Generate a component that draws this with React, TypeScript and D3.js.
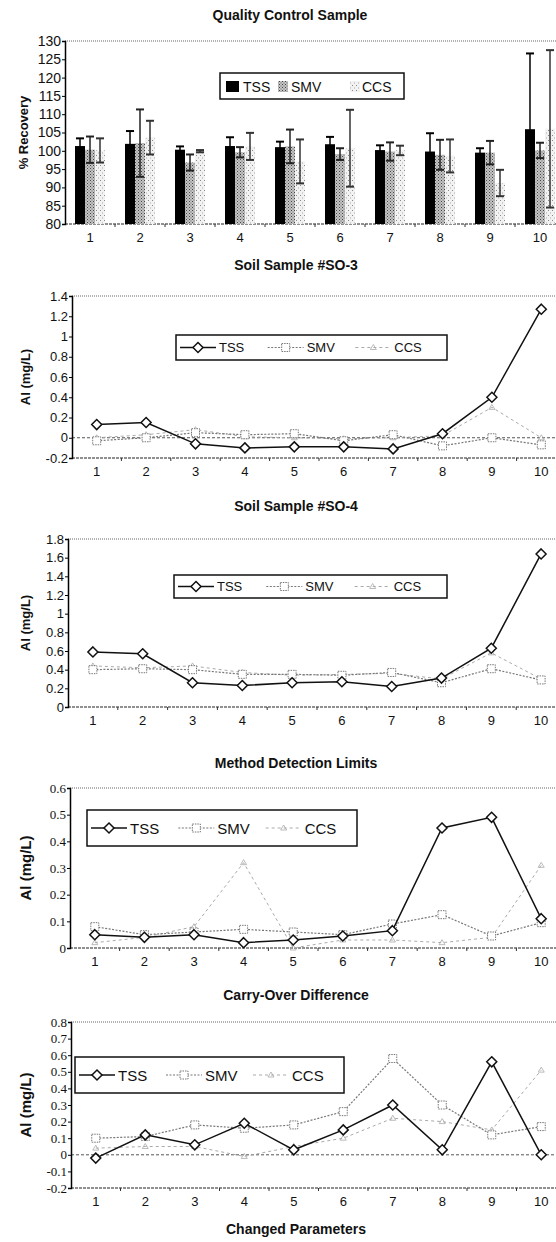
import React, { useEffect, useRef } from "react";
import * as d3 from "d3";

// ---- data ----
const categories = ["1", "2", "3", "4", "5", "6", "7", "8", "9", "10"];
const seriesNames = ["TSS", "SMV", "CCS"];

// Quality Control Sample, % recovery with +/- error
const qcTSS = [101.3, 101.9, 100.3, 101.3, 101.0, 101.8, 100.2, 99.8, 99.5, 105.9];
const qcTSSErr = [2.1, 3.5, 0.9, 2.4, 1.5, 2.0, 1.3, 5.0, 1.2, 20.7];
const qcSMV = [100.3, 102.1, 96.8, 99.6, 101.2, 99.1, 99.8, 98.9, 99.5, 100.1];
const qcSMVErr = [3.6, 9.2, 2.2, 1.4, 4.6, 1.6, 2.5, 4.1, 3.2, 2.1];
const qcCCS = [100.1, 103.6, 99.9, 101.2, 97.1, 100.7, 100.1, 98.6, 91.2, 106.0];
const qcCCSErr = [3.3, 4.6, 0.3, 3.7, 6.0, 10.5, 1.3, 4.5, 3.6, 21.5];
const qcTicks = [80, 85, 90, 95, 100, 105, 110, 115, 120, 125, 130];

// Soil Sample #SO-3
const so3TSS = [0.13, 0.15, -0.06, -0.1, -0.09, -0.09, -0.11, 0.04, 0.4, 1.27];
const so3SMV = [-0.03, 0.0, 0.05, 0.03, 0.04, -0.03, 0.03, -0.08, 0.0, -0.07];
const so3CCS = [0.0, 0.03, 0.08, 0.01, 0.0, -0.01, 0.0, 0.02, 0.3, 0.0];
const so3Ticks = [-0.2, 0, 0.2, 0.4, 0.6, 0.8, 1, 1.2, 1.4];

// Soil Sample #SO-4
const so4TSS = [0.59, 0.57, 0.26, 0.23, 0.26, 0.27, 0.22, 0.31, 0.63, 1.64];
const so4SMV = [0.4, 0.41, 0.4, 0.35, 0.35, 0.34, 0.37, 0.26, 0.41, 0.29];
const so4CCS = [0.44, 0.42, 0.44, 0.37, 0.34, 0.35, 0.36, 0.3, 0.58, 0.3];
const so4Ticks = [0, 0.2, 0.4, 0.6, 0.8, 1, 1.2, 1.4, 1.6, 1.8];

// Method Detection Limits
const mdlTSS = [0.05, 0.04, 0.05, 0.02, 0.03, 0.045, 0.065, 0.45, 0.49, 0.11];
const mdlSMV = [0.08, 0.05, 0.06, 0.07, 0.06, 0.05, 0.09, 0.125, 0.045, 0.095];
const mdlCCS = [0.02, 0.04, 0.08, 0.32, 0.0, 0.03, 0.03, 0.02, 0.04, 0.31];
const mdlTicks = [0, 0.1, 0.2, 0.3, 0.4, 0.5, 0.6];

// Carry-Over Difference
const coTSS = [-0.02, 0.12, 0.06, 0.19, 0.03, 0.15, 0.3, 0.03, 0.56, 0.0];
const coSMV = [0.1, 0.11, 0.18, 0.16, 0.18, 0.26, 0.58, 0.3, 0.12, 0.17];
const coCCS = [0.04, 0.05, 0.05, -0.01, 0.05, 0.1, 0.22, 0.2, 0.15, 0.51];
const coTicks = [-0.2, -0.1, 0, 0.1, 0.2, 0.3, 0.4, 0.5, 0.6, 0.7, 0.8];

const SANS = "Liberation Sans, Arial, sans-serif";
const SERIF = "Liberation Serif, Times New Roman, serif";

const lineStyle: any = {
  TSS: { stroke: "#111", width: 1.5, dash: null, marker: "diamond", mstroke: "#111" },
  SMV: { stroke: "#777", width: 1.2, dash: "2,1.5", marker: "square", mstroke: "#777" },
  CCS: { stroke: "#aaa", width: 1, dash: "3,3", marker: "triangle", mstroke: "#aaa" },
};

const fmt = (d: number) => String(+d.toFixed(1));

function drawMarker(g: any, kind: string, cx: number, cy: number, stroke: string) {
  if (kind === "diamond") {
    g.append("path")
      .attr("d", `M${cx},${cy - 5}L${cx + 5},${cy}L${cx},${cy + 5}L${cx - 5},${cy}Z`)
      .attr("fill", "#fff").attr("stroke", stroke).attr("stroke-width", 1.5);
  } else if (kind === "square") {
    g.append("rect")
      .attr("x", cx - 4).attr("y", cy - 4).attr("width", 8).attr("height", 8)
      .attr("fill", "#fff").attr("stroke", stroke).attr("stroke-width", 1).attr("stroke-dasharray", "1.5,1");
  } else {
    g.append("path")
      .attr("d", `M${cx},${cy - 3}L${cx + 3},${cy + 2}L${cx - 3},${cy + 2}Z`)
      .attr("fill", "none").attr("stroke", stroke).attr("stroke-width", 0.8);
  }
}

function drawFrame(svg: any, left: number, right: number, top: number, bottom: number) {
  svg.append("line").attr("x1", left).attr("x2", right).attr("y1", top).attr("y2", top)
    .attr("stroke", "#666").attr("stroke-width", 1).attr("stroke-dasharray", "1,1");
  svg.append("line").attr("x1", left).attr("x2", right).attr("y1", bottom).attr("y2", bottom)
    .attr("stroke", "#222").attr("stroke-width", 1.2).attr("stroke-dasharray", "3,1");
}

function drawYAxis(svg: any, y: any, left: number, ticks: number[], font: string, size: number) {
  const ax = svg.append("g").attr("transform", `translate(${left},0)`)
    .call(d3.axisLeft(y).tickValues(ticks).tickSize(3).tickFormat((d: any) => fmt(d)));
  ax.select(".domain").attr("stroke", "#000").attr("stroke-width", 1.5);
  ax.selectAll(".tick line").attr("stroke", "#000");
  ax.selectAll(".tick text").attr("font-family", font).attr("font-size", size).attr("fill", "#111").attr("x", -4);
}

function drawXLabels(svg: any, x: (c: string) => number, step: number, bottom: number, size: number) {
  svg.append("g").selectAll("text").data(categories).join("text")
    .attr("x", (d: string) => x(d)).attr("y", bottom + 18)
    .attr("text-anchor", "middle").attr("font-family", SANS).attr("font-size", size).attr("fill", "#111")
    .text((d: string) => d);
  // small tick marks between categories
  svg.append("g").selectAll("line").data(categories).join("line")
    .attr("x1", (d: string) => x(d) + step / 2).attr("x2", (d: string) => x(d) + step / 2)
    .attr("y1", bottom).attr("y2", bottom + 3)
    .attr("stroke", "#333").attr("stroke-width", 1);
}

function drawTitle(svg: any, text: string, cx: number, cy: number) {
  svg.append("text").attr("x", cx).attr("y", cy).attr("text-anchor", "middle")
    .attr("dominant-baseline", "central").attr("font-family", SANS).attr("font-weight", "bold")
    .attr("font-size", 14).attr("fill", "#111").text(text);
}

function drawYTitle(svg: any, text: string, cx: number, cy: number, size: number) {
  svg.append("text").attr("transform", `translate(${cx},${cy}) rotate(-90)`).attr("text-anchor", "middle")
    .attr("dominant-baseline", "central").attr("font-family", SANS).attr("font-weight", "bold")
    .attr("font-size", size).attr("fill", "#111").text(text);
}

function drawLineLegend(svg: any, box: number[], size: number, font: string) {
  const [x0, y0, x1, y1] = box;
  svg.append("rect").attr("x", x0).attr("y", y0).attr("width", x1 - x0).attr("height", y1 - y0)
    .attr("fill", "#fff").attr("stroke", "#111").attr("stroke-width", 1.5);
  const cy = (y0 + y1) / 2;
  const itemW = (x1 - x0 - 8) / 3;
  seriesNames.forEach((name, i) => {
    const st = lineStyle[name];
    const sx = x0 + 4 + i * itemW;
    const ln = svg.append("line").attr("x1", sx).attr("x2", sx + 36).attr("y1", cy).attr("y2", cy)
      .attr("stroke", st.stroke).attr("stroke-width", st.width);
    if (st.dash) ln.attr("stroke-dasharray", st.dash);
    drawMarker(svg, st.marker, sx + 18, cy, st.mstroke);
    svg.append("text").attr("x", sx + 39).attr("y", cy).attr("dominant-baseline", "central")
      .attr("font-family", font).attr("font-size", size).attr("fill", "#111").text(name);
  });
}

function drawLinePanel(svg: any, cfg: any) {
  const { title, titleY, top, bottom, left, right, ticks, tickFont, tickSize, data, legend, legendSize, yTitleSize } = cfg;
  const x = d3.scalePoint<string>().domain(categories).range([left, right]).padding(0.5);
  const y = d3.scaleLinear().domain([ticks[0], ticks[ticks.length - 1]]).range([bottom, top]);
  drawTitle(svg, title, 296, titleY);
  drawFrame(svg, left, right, top, bottom);
  if (ticks[0] < 0) {
    svg.append("line").attr("x1", left).attr("x2", right).attr("y1", y(0)).attr("y2", y(0))
      .attr("stroke", "#555").attr("stroke-width", 1).attr("stroke-dasharray", "3,2");
  }
  drawYAxis(svg, y, left, ticks, tickFont, tickSize);
  drawXLabels(svg, (c) => x(c) as number, x.step(), bottom, 13);
  drawYTitle(svg, "Al (mg/L)", 25, (top + bottom) / 2, yTitleSize);

  // draw CCS first, TSS last on top
  ["CCS", "SMV", "TSS"].forEach((name) => {
    const st = lineStyle[name];
    const vals: number[] = data[name];
    const line = d3.line<number>().x((_, i) => x(categories[i]) as number).y((d) => y(d));
    const p = svg.append("path").attr("d", line(vals)).attr("fill", "none")
      .attr("stroke", st.stroke).attr("stroke-width", st.width);
    if (st.dash) p.attr("stroke-dasharray", st.dash);
    const g = svg.append("g");
    vals.forEach((v, i) => drawMarker(g, st.marker, x(categories[i]) as number, y(v), st.mstroke));
  });
  drawLineLegend(svg, legend, legendSize, SANS);
}

function drawQC(svg: any) {
  const left = 65, right = 565, top = 41, bottom = 224;
  const x = d3.scaleBand<string>().domain(categories).range([left, right]).paddingInner(0.4).paddingOuter(0.2);
  const xs = d3.scaleBand<string>().domain(seriesNames).range([0, x.bandwidth()]);
  const y = d3.scaleLinear().domain([80, 130]).range([bottom, top]);

  const defs = svg.append("defs");
  const p1 = defs.append("pattern").attr("id", "smvPat").attr("width", 3).attr("height", 3)
    .attr("patternUnits", "userSpaceOnUse");
  p1.append("rect").attr("width", 3).attr("height", 3).attr("fill", "#c4c4c4");
  p1.append("rect").attr("width", 1).attr("height", 1).attr("fill", "#444");
  p1.append("rect").attr("x", 1.5).attr("y", 1.5).attr("width", 1).attr("height", 1).attr("fill", "#666");
  const p2 = defs.append("pattern").attr("id", "ccsPat").attr("width", 4).attr("height", 5)
    .attr("patternUnits", "userSpaceOnUse");
  p2.append("rect").attr("width", 4).attr("height", 5).attr("fill", "#f2f2f2");
  p2.append("rect").attr("width", 1).attr("height", 1).attr("fill", "#888");
  p2.append("rect").attr("x", 2).attr("y", 2.5).attr("width", 1).attr("height", 1).attr("fill", "#aaa");

  drawTitle(svg, "Quality Control Sample", 290, 15);
  drawFrame(svg, left, right, top, bottom);

  const fills: any = { TSS: "#000", SMV: "url(#smvPat)", CCS: "url(#ccsPat)" };
  const vals: any = { TSS: qcTSS, SMV: qcSMV, CCS: qcCCS };
  const errs: any = { TSS: qcTSSErr, SMV: qcSMVErr, CCS: qcCCSErr };
  const g = svg.append("g");
  seriesNames.forEach((name) => {
    g.selectAll(null).data(vals[name]).join("rect")
      .attr("x", (_: any, i: number) => (x(categories[i]) as number) + (xs(name) as number))
      .attr("y", (d: number) => y(d))
      .attr("width", xs.bandwidth())
      .attr("height", (d: number) => bottom - y(d))
      .attr("fill", fills[name]);
  });
  seriesNames.forEach((name) => {
    const ecol = name === "TSS" ? "#000" : name === "SMV" ? "#222" : "#333";
    vals[name].forEach((v: number, i: number) => {
      const cx = (x(categories[i]) as number) + (xs(name) as number) + xs.bandwidth() / 2;
      const e = errs[name][i];
      const y1 = y(v + e), y2 = y(Math.max(80, v - e));
      g.append("line").attr("x1", cx).attr("x2", cx).attr("y1", y1).attr("y2", y2)
        .attr("stroke", ecol).attr("stroke-width", 1.5);
      g.append("line").attr("x1", cx - 4).attr("x2", cx + 4).attr("y1", y1).attr("y2", y1)
        .attr("stroke", ecol).attr("stroke-width", 2);
      if (v - e > 80) {
        g.append("line").attr("x1", cx - 4).attr("x2", cx + 4).attr("y1", y2).attr("y2", y2)
          .attr("stroke", ecol).attr("stroke-width", 2);
      }
    });
  });

  drawYAxis(svg, y, left, qcTicks, SANS, 14);
  drawXLabels(svg, (c) => (x(c) as number) + x.bandwidth() / 2, x.step(), bottom, 13);
  drawYTitle(svg, "% Recovery", 23, (top + bottom) / 2, 13);

  // legend
  const lx0 = 220, ly0 = 73, lx1 = 404, ly1 = 99;
  svg.append("rect").attr("x", lx0).attr("y", ly0).attr("width", lx1 - lx0).attr("height", ly1 - ly0)
    .attr("fill", "#fff").attr("stroke", "#111").attr("stroke-width", 1.5);
  const items = [
    { name: "TSS", sx: 226, tx: 243 },
    { name: "SMV", sx: 278, tx: 291 },
    { name: "CCS", sx: 350, tx: 362 },
  ];
  items.forEach((it) => {
    svg.append("rect").attr("x", it.sx).attr("y", 81).attr("width", it.name === "TSS" ? 13 : 10)
      .attr("height", 11).attr("fill", fills[it.name]);
    svg.append("text").attr("x", it.tx).attr("y", 86.5).attr("dominant-baseline", "central")
      .attr("font-family", SANS).attr("font-size", 14).attr("fill", "#111").text(it.name);
  });
}

export default function App() {
  const ref = useRef<SVGSVGElement>(null);
  useEffect(() => {
    const svg = d3.select(ref.current);
    svg.selectAll("*").remove();
    drawQC(svg);
    drawLinePanel(svg, {
      title: "Soil Sample #SO-3", titleY: 265, top: 296, bottom: 458, left: 72, right: 566,
      ticks: so3Ticks, tickFont: SANS, tickSize: 13, yTitleSize: 13,
      data: { TSS: so3TSS, SMV: so3SMV, CCS: so3CCS },
      legend: [176, 335, 447, 360], legendSize: 13,
    });
    drawLinePanel(svg, {
      title: "Soil Sample #SO-4", titleY: 506, top: 539, bottom: 707, left: 68, right: 566,
      ticks: so4Ticks, tickFont: SANS, tickSize: 13, yTitleSize: 13,
      data: { TSS: so4TSS, SMV: so4SMV, CCS: so4CCS },
      legend: [174, 575, 447, 598], legendSize: 13,
    });
    drawLinePanel(svg, {
      title: "Method Detection Limits", titleY: 763, top: 788, bottom: 948, left: 70, right: 566,
      ticks: mdlTicks, tickFont: SERIF, tickSize: 13, yTitleSize: 15,
      data: { TSS: mdlTSS, SMV: mdlSMV, CCS: mdlCCS },
      legend: [87, 810, 357, 846], legendSize: 15,
    });
    drawLinePanel(svg, {
      title: "Carry-Over Difference", titleY: 995, top: 1022, bottom: 1188, left: 71, right: 566,
      ticks: coTicks, tickFont: SERIF, tickSize: 13, yTitleSize: 15,
      data: { TSS: coTSS, SMV: coSMV, CCS: coCCS },
      legend: [75, 1057, 344, 1093], legendSize: 15,
    });
    svg.append("text").attr("x", 296).attr("y", 1229).attr("text-anchor", "middle")
      .attr("dominant-baseline", "central").attr("font-family", SANS).attr("font-weight", "bold")
      .attr("font-size", 14).attr("fill", "#111").text("Changed Parameters");
  }, []);

  return (
    <>
      <style>{`body{margin:0}`}</style>
      <svg ref={ref} width={556} height={1242} style={{ display: "block", background: "#fff" }} />
    </>
  );
}
